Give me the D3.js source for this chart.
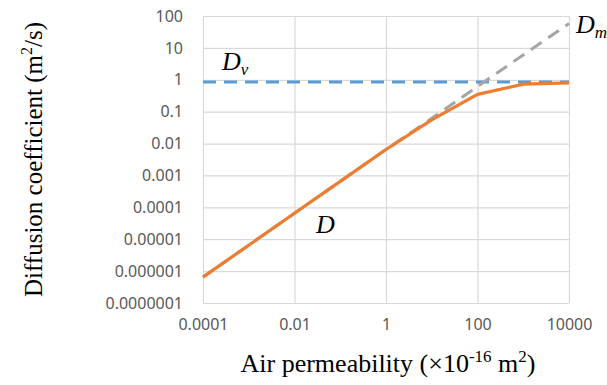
<!DOCTYPE html>
<html>
<head>
<meta charset="utf-8">
<script src="https://cdn.jsdelivr.net/npm/d3@7"></script>
<style>
  body { margin: 0; background: #fff; }
  svg { display: block; }
</style>
</head>
<body>
<div id="chart"></div>
<script>
// Datos
const permeability = [0.0001, 0.001, 0.01, 0.1, 1, 10, 100, 1000, 10000];
const seriesD = [6.5e-7, 6.5e-6, 6.5e-5, 6.5e-4, 0.0065, 0.055, 0.35, 0.73, 0.8];
const seriesDm = [6.5e-7, 6.5e-6, 6.5e-5, 6.5e-4, 0.0065, 0.062, 0.62, 6, 58];
const seriesDv = [0.85, 0.85, 0.85, 0.85, 0.85, 0.85, 0.85, 0.85, 0.85];
const xTicks = [0.0001, 0.01, 1, 100, 10000];
const xTickLabels = ['0.0001', '0.01', '1', '100', '10000'];
const yTicks = [1e-7, 1e-6, 1e-5, 1e-4, 1e-3, 1e-2, 0.1, 1, 10, 100];
const yTickLabels = ['0.0000001', '0.000001', '0.00001', '0.0001', '0.001', '0.01', '0.1', '1', '10', '100'];

const width = 607;
const height = 385;
const margin = { top: 16, right: 38, bottom: 82, left: 203 };

const svg = d3.select('#chart')
  .append('svg')
  .attr('width', width)
  .attr('height', height);

const x = d3.scaleLog()
  .domain([0.0001, 10000])
  .range([margin.left, width - margin.right]);

const y = d3.scaleLog()
  .domain([1e-7, 100])
  .range([height - margin.bottom, margin.top]);

// Rejilla
const xGrid = svg.append('g')
  .attr('transform', `translate(0, ${margin.top})`)
  .call(d3.axisBottom(x).tickValues(xTicks)
    .tickSize(height - margin.bottom - margin.top).tickFormat(''));
xGrid.select('.domain').remove();
xGrid.selectAll('line').attr('stroke', '#d9d9d9').attr('stroke-width', 1.2);

const yGrid = svg.append('g')
  .attr('transform', `translate(${margin.left}, 0)`)
  .call(d3.axisRight(y).tickValues(yTicks)
    .tickSize(width - margin.right - margin.left).tickFormat(''));
yGrid.select('.domain').remove();
yGrid.selectAll('line').attr('stroke', '#d9d9d9').attr('stroke-width', 1.2);

// Etiquetas de los ejes
const xAxis = svg.append('g')
  .attr('transform', `translate(0, ${height - margin.bottom})`)
  .call(d3.axisBottom(x).tickValues(xTicks).tickSize(0).tickPadding(16)
    .tickFormat((d, i) => xTickLabels[i]));
xAxis.select('.domain').remove();
xAxis.selectAll('text')
  .attr('fill', '#595959')
  .style('font-family', '"Noto Sans", sans-serif')
  .style('font-size', '16px');

const yAxis = svg.append('g')
  .attr('transform', `translate(${margin.left}, 0)`)
  .call(d3.axisLeft(y).tickValues(yTicks).tickSize(0).tickPadding(20)
    .tickFormat((d, i) => yTickLabels[i]));
yAxis.select('.domain').remove();
yAxis.selectAll('text')
  .attr('fill', '#595959')
  .style('font-family', '"Noto Sans", sans-serif')
  .style('font-size', '16px');

// Líneas
const line = d3.line()
  .x((d, i) => x(permeability[i]))
  .y(d => y(d));

svg.append('path')
  .datum(seriesDv)
  .attr('d', line)
  .attr('fill', 'none')
  .attr('stroke', '#5b9bd5')
  .attr('stroke-width', 3)
  .attr('stroke-dasharray', '13,8');

svg.append('path')
  .datum(seriesDm)
  .attr('d', line)
  .attr('fill', 'none')
  .attr('stroke', '#a5a5a5')
  .attr('stroke-width', 3)
  .attr('stroke-dasharray', '13,8');

svg.append('path')
  .datum(seriesD)
  .attr('d', line)
  .attr('fill', 'none')
  .attr('stroke', '#ed7d31')
  .attr('stroke-width', 3.2)
  .attr('stroke-linejoin', 'round');

// Textos
const serif = '"Liberation Serif", "Times New Roman", serif';

function label(px, py, main, sub) {
  const t = svg.append('text')
    .attr('x', px)
    .attr('y', py)
    .style('font-family', serif)
    .style('font-style', 'italic')
    .style('font-size', '26px')
    .attr('fill', '#000');
  t.append('tspan').text(main);
  if (sub) {
    t.append('tspan').attr('dy', 5).style('font-size', '17px').text(sub);
  }
}

label(222, 70, 'D', 'v');
label(576, 33, 'D', 'm');
label(316, 233, 'D');

const xTitle = svg.append('text')
  .attr('x', (margin.left + width - margin.right) / 2 + 2)
  .attr('y', 372)
  .attr('text-anchor', 'middle')
  .style('font-family', serif)
  .style('font-size', '26px')
  .attr('fill', '#000');
xTitle.append('tspan').text('Air permeability (×10');
xTitle.append('tspan').attr('dy', -10).style('font-size', '17px').text('-16');
xTitle.append('tspan').attr('dy', 10).text(' m');
xTitle.append('tspan').attr('dy', -10).style('font-size', '17px').text('2');
xTitle.append('tspan').attr('dy', 10).text(')');

const yTitle = svg.append('text')
  .attr('transform', `translate(42, ${(margin.top + height - margin.bottom) / 2}) rotate(-90)`)
  .attr('text-anchor', 'middle')
  .style('font-family', serif)
  .style('font-size', '25px')
  .attr('fill', '#000');
yTitle.append('tspan').text('Diffusion coefficient (m');
yTitle.append('tspan').attr('dy', -10).style('font-size', '16px').text('2');
yTitle.append('tspan').attr('dy', 10).text('/s)');
</script>
</body>
</html>
